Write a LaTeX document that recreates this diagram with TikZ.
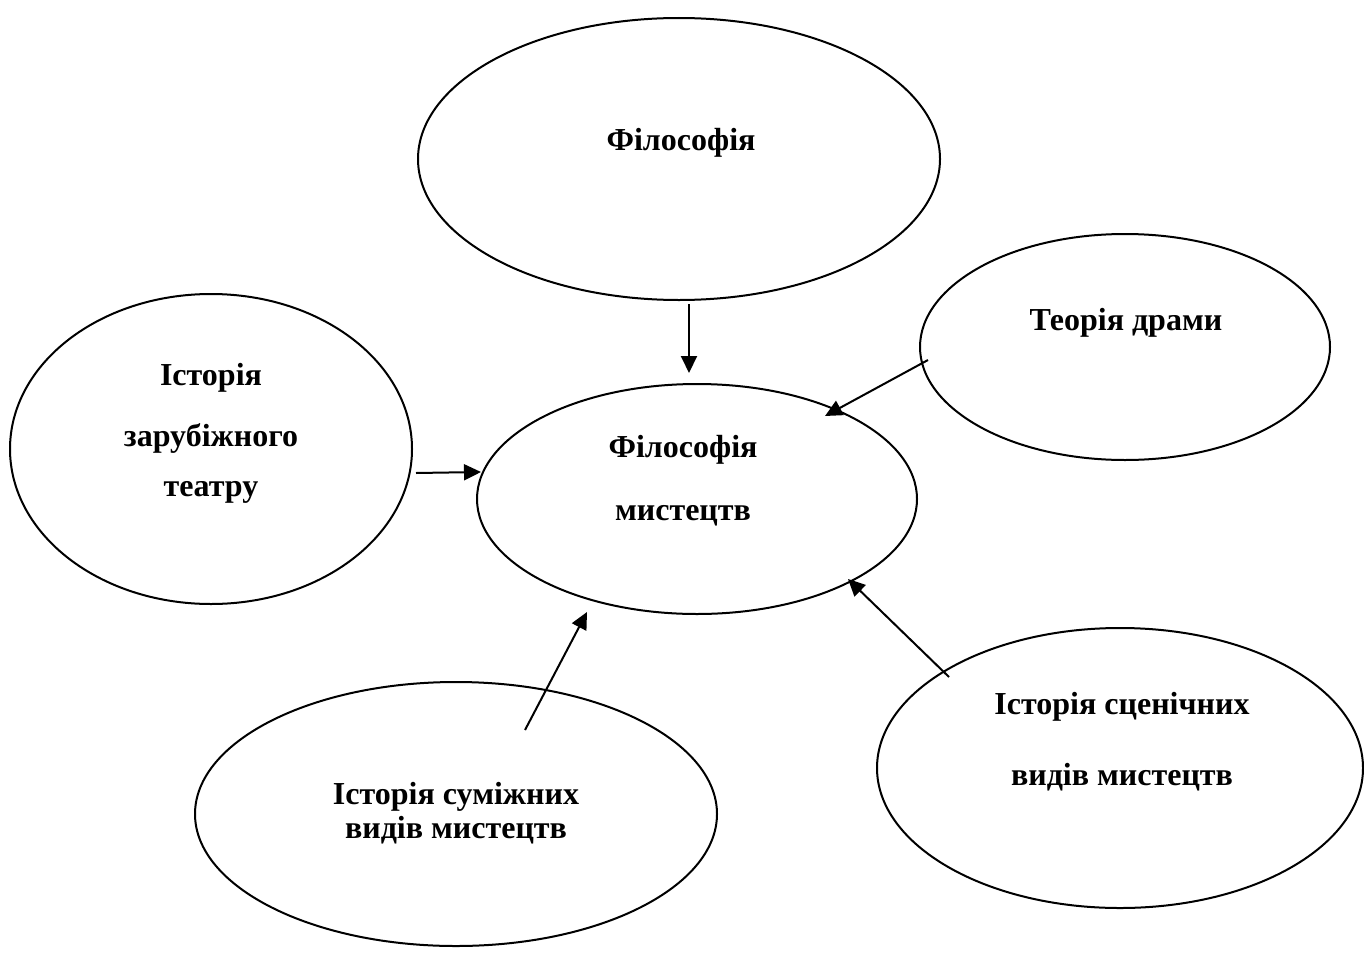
\documentclass[tikz,border=0pt]{standalone}
\usepackage{fontspec}
\setmainfont{Liberation Serif}
\usetikzlibrary{shapes.geometric,arrows.meta}
\begin{document}
\begin{tikzpicture}[x=1pt,y=-1pt,
  oval/.style={draw,ellipse,line width=2pt,inner sep=0pt},
  lbl/.style={font=\fontsize{32}{36}\selectfont\bfseries,align=center,inner sep=0pt},
  conn/.style={line width=2pt,-{Triangle[length=17pt,width=16pt]}}]
\useasboundingbox (0,0) rectangle (1364,974);
% ellipses
\node[oval,minimum width=522pt,minimum height=282pt] (phil) at (679,159) {};
\node[oval,minimum width=410pt,minimum height=226pt] (drama) at (1125,347) {};
\node[oval,minimum width=402pt,minimum height=310pt] (theatre) at (211,449) {};
\node[oval,minimum width=440pt,minimum height=230pt] (center) at (697,499) {};
\node[oval,minimum width=486pt,minimum height=280pt] (stage) at (1120,768) {};
\node[oval,minimum width=522pt,minimum height=264pt] (adjacent) at (456,814) {};
% labels
\node[lbl] (tphil) at (681,143) {Філософія};
\node[lbl] (tdrama) at (1126,323) {Теорія драми};
\node[lbl] (tth1) at (211,378) {Історія};
\node[lbl] (tth2) at (211,438) {зарубіжного};
\node[lbl] (tth3) at (211,492) {театру};
\node[lbl] (tc1) at (683,450) {Філософія};
\node[lbl] (tc2) at (683,516) {мистецтв};
\node[lbl] (ts1) at (1122,707) {Історія сценічних};
\node[lbl] (ts2) at (1122,777) {видів мистецтв};
\node[lbl] (ta1) at (456,797) {Історія суміжних};
\node[lbl] (ta2) at (456,830) {видів мистецтв};
% arrow ends
\coordinate (p1) at (689,304);  \coordinate (q1) at (689,373);
\coordinate (p2) at (928,360);  \coordinate (q2) at (825,416);
\coordinate (p3) at (416,473);  \coordinate (q3) at (481,472);
\coordinate (p4) at (525,730);  \coordinate (q4) at (587,612);
\coordinate (p5) at (949,677);  \coordinate (q5) at (848,579);
\draw[conn] (p1) -- (q1);
\draw[conn] (p2) -- (q2);
\draw[conn] (p3) -- (q3);
\draw[conn] (p4) -- (q4);
\draw[conn] (p5) -- (q5);
\end{tikzpicture}
\end{document}
